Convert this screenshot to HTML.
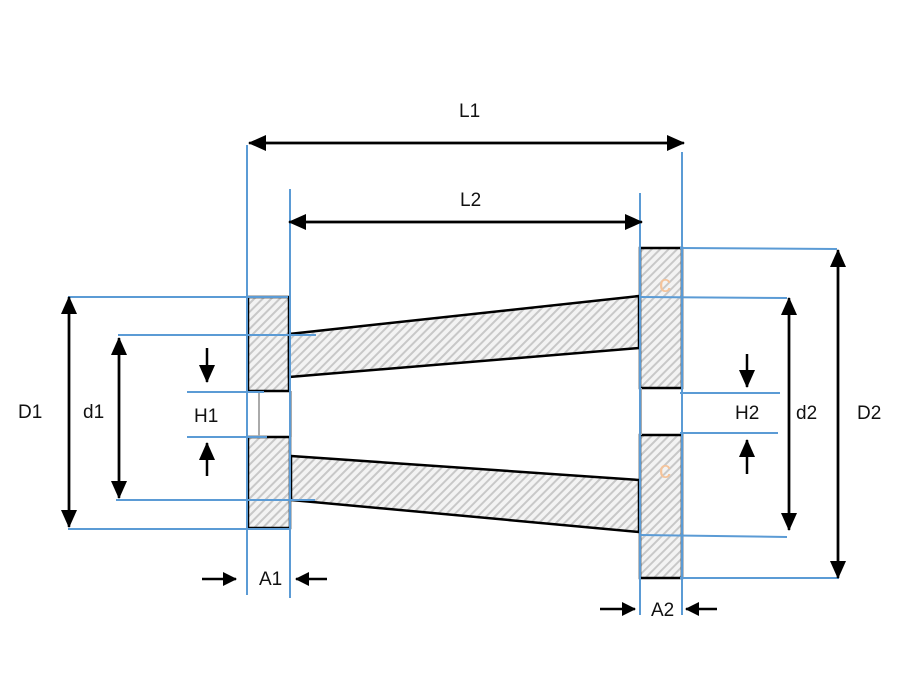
<!DOCTYPE html>
<html><head><meta charset="utf-8"><style>html,body{margin:0;padding:0;background:#fff}svg{display:block}text{font-family:"Liberation Sans",sans-serif;font-size:19px;fill:#111}</style></head><body>
<svg width="900" height="700" viewBox="0 0 900 700" xmlns="http://www.w3.org/2000/svg">
<defs>
<pattern id="h" patternUnits="userSpaceOnUse" width="6" height="6" patternTransform="rotate(45)">
<rect width="6" height="6" fill="#f3f3f3"/><rect width="2" height="6" fill="#c8c8c8"/></pattern>
<marker id="a" markerWidth="18" markerHeight="16" refX="17" refY="8" orient="auto" markerUnits="userSpaceOnUse" viewBox="0 0 18 16"><path d="M0,0 L18,8 L0,16z" fill="#000"/></marker>
<marker id="b" markerWidth="14" markerHeight="14" refX="13" refY="7" orient="auto" markerUnits="userSpaceOnUse" viewBox="0 0 14 14"><path d="M0,0 L14,7 L0,14z" fill="#000"/></marker>
</defs>
<g stroke="#000" stroke-width="2.5" fill="url(#h)">
<rect x="248" y="297" width="41" height="94"/>
<rect x="248" y="437" width="42" height="91"/>
<rect x="640" y="248" width="42" height="140"/>
<rect x="640" y="435" width="42" height="143"/>
<polygon points="289,334 639,296 639,348 289,377"/>
<polygon points="291,456 639,480 639,532 291,500"/>
</g>
<g stroke="#aaa" stroke-width="2"><line x1="259" y1="391" x2="259" y2="437"/><line x1="291" y1="391" x2="291" y2="437"/><line x1="641" y1="388" x2="641" y2="435"/></g>
<text x="659" y="292" style="fill:#f5c39a;font-size:24px">c</text>
<text x="659" y="478" style="fill:#f5c39a;font-size:24px">c</text>
<g stroke="#5b9bd5" stroke-width="2">
<line x1="247" y1="145" x2="247" y2="595"/><line x1="290" y1="189" x2="290" y2="598"/>
<line x1="640" y1="193" x2="640" y2="615"/><line x1="682" y1="152" x2="682" y2="615"/>
<line x1="68" y1="297" x2="288" y2="297"/><line x1="118" y1="335" x2="316" y2="335"/>
<line x1="187" y1="392" x2="264" y2="392"/><line x1="187" y1="437" x2="267" y2="437"/>
<line x1="116" y1="500" x2="315" y2="500"/><line x1="68" y1="529" x2="290" y2="529"/>
<line x1="680" y1="248" x2="837" y2="249"/><line x1="640" y1="297" x2="787" y2="298"/>
<line x1="680" y1="393" x2="780" y2="393"/><line x1="680" y1="433" x2="778" y2="433"/>
<line x1="640" y1="535" x2="787" y2="537"/><line x1="680" y1="578" x2="839" y2="578"/>
</g>
<g stroke="#000" stroke-width="2.5" fill="none">
<line x1="260" y1="143" x2="684" y2="143" marker-end="url(#a)"/><line x1="674" y1="143" x2="249" y2="143" marker-end="url(#a)"/>
<line x1="300" y1="222" x2="642" y2="222" marker-end="url(#a)"/><line x1="632" y1="222" x2="289" y2="222" marker-end="url(#a)"/>
<line x1="69" y1="310" x2="69" y2="527" marker-end="url(#a)"/><line x1="69" y1="515" x2="69" y2="297" marker-end="url(#a)"/>
<line x1="119" y1="350" x2="119" y2="498" marker-end="url(#a)"/><line x1="119" y1="486" x2="119" y2="338" marker-end="url(#a)"/>
<line x1="789" y1="310" x2="789" y2="530" marker-end="url(#a)"/><line x1="789" y1="518" x2="789" y2="298" marker-end="url(#a)"/>
<line x1="838" y1="262" x2="838" y2="578" marker-end="url(#a)"/><line x1="838" y1="566" x2="838" y2="250" marker-end="url(#a)"/>
<line x1="207" y1="348" x2="207" y2="382" marker-end="url(#a)"/><line x1="207" y1="476" x2="207" y2="443" marker-end="url(#a)"/>
<line x1="747" y1="354" x2="747" y2="387" marker-end="url(#a)"/><line x1="747" y1="474" x2="747" y2="440" marker-end="url(#a)"/>
<line x1="202" y1="579" x2="236" y2="579" marker-end="url(#b)"/><line x1="327" y1="579" x2="296" y2="579" marker-end="url(#b)"/>
<line x1="600" y1="609" x2="635" y2="609" marker-end="url(#b)"/><line x1="717" y1="609" x2="686" y2="609" marker-end="url(#b)"/>
</g>
<text x="459" y="117">L1</text><text x="460" y="206">L2</text>
<text x="18" y="418">D1</text><text x="83" y="418">d1</text>
<text x="194" y="422">H1</text><text x="735" y="419">H2</text>
<text x="796" y="419">d2</text><text x="857" y="419">D2</text>
<text x="259" y="585">A1</text><text x="651" y="616">A2</text>
</svg>
</body></html>
